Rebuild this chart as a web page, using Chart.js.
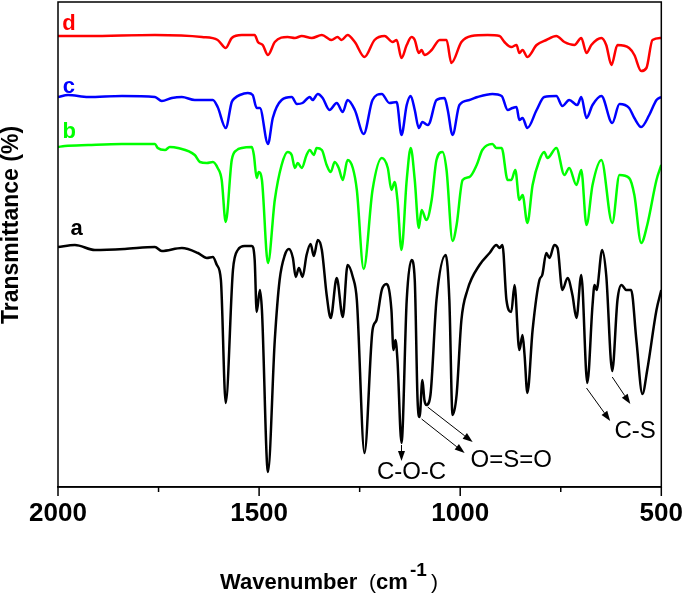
<!DOCTYPE html>
<html>
<head>
<meta charset="utf-8">
<script src="https://cdn.jsdelivr.net/npm/chart.js@4.4.1/dist/chart.umd.min.js"></script>
<style>
html,body{margin:0;padding:0;background:#ffffff;}
#wrap{width:685px;height:594px;position:relative;}
</style>
</head>
<body>
<div id="wrap"><canvas id="chart" width="685" height="594"></canvas></div>
<script>
// ---- Data (wavenumber in cm-1, transmittance in arbitrary offset units) ----
const xTickLabels = [2000, 1500, 1000, 500];
const xMinorTicks = [1750, 1250, 750];

const aWn = [2000,1958,1908,1834,1759,1742,1692,1652,1630,1615,1605,1595,1583,1565,1553,1536,1518,1511,1506,1498,1493,1478,1461,1449,1436,1426,1416,1409,1401,1392,1382,1372,1364,1354,1344,1332,1322,1307,1292,1280,1267,1257,1238,1218,1208,1195,1183,1171,1166,1161,1156,1146,1133,1121,1113,1106,1101,1094,1089,1084,1074,1059,1036,1027,1019,1009,997,982,952,927,910,902,895,885,873,865,853,845,840,833,820,803,796,786,778,766,758,746,733,721,711,699,684,671,666,661,647,637,622,609,599,587,575,562,547,535,512,500];
const aT  = [240,242,237,238,240,236,239,234,229,230,222,207,84,217,237,241,241,227,175,197,177,15,147,207,232,238,229,210,219,210,232,243,231,247,237,192,169,209,170,222,210,187,34,157,167,197,203,177,137,147,127,44,187,227,207,87,70,107,87,82,92,187,232,187,72,92,167,197,222,234,242,239,242,187,175,202,137,152,132,94,157,207,212,234,229,242,239,197,209,192,169,212,104,182,202,197,237,212,116,187,202,197,197,147,93,117,177,197];

const bWn = [2000,1983,1925,1841,1759,1752,1734,1722,1702,1660,1647,1630,1615,1603,1593,1583,1568,1555,1543,1518,1513,1506,1501,1493,1478,1461,1444,1429,1419,1411,1404,1394,1382,1374,1364,1357,1344,1332,1322,1312,1302,1292,1280,1267,1257,1240,1218,1195,1180,1171,1163,1156,1146,1133,1123,1113,1103,1096,1084,1071,1059,1044,1034,1019,1009,994,977,959,945,920,910,897,882,873,863,853,845,833,820,803,791,783,761,741,729,711,699,686,671,649,622,604,580,567,550,535,512,500];
const bT  = [340,341,342,343,343,339,337,340,339,332,325,324,325,319,307,265,327,337,339,340,332,309,315,307,224,287,322,335,332,319,324,319,332,337,332,339,337,322,315,325,319,307,327,319,297,218,297,329,319,297,305,287,237,307,339,307,259,277,267,287,327,335,317,246,262,307,310,322,337,343,339,339,307,307,317,287,292,264,302,327,335,329,339,312,319,302,317,262,302,327,264,312,309,292,244,262,307,322];

const cWn = [2000,1975,1925,1841,1759,1742,1717,1692,1660,1615,1603,1583,1568,1560,1548,1528,1516,1506,1498,1478,1466,1444,1419,1406,1392,1374,1367,1354,1342,1325,1307,1292,1280,1262,1240,1218,1195,1176,1158,1146,1133,1123,1113,1103,1094,1081,1076,1059,1039,1031,1019,1002,977,957,920,897,882,870,860,853,845,833,810,791,761,746,729,709,699,686,671,649,622,604,580,567,550,530,512,500];
const cT  = [390,392,390,391,390,386,389,390,387,387,380,359,385,389,392,394,392,379,379,343,369,387,390,383,384,390,387,393,389,377,384,375,387,377,353,387,393,384,385,352,382,391,377,359,365,362,364,387,389,377,352,382,387,390,393,391,377,379,380,367,369,359,377,390,391,381,387,382,390,369,382,391,364,383,379,369,360,372,387,390];

const dWn = [2000,1925,1759,1642,1603,1583,1568,1543,1511,1503,1491,1478,1461,1429,1411,1394,1369,1344,1320,1305,1295,1280,1262,1238,1213,1188,1168,1158,1146,1133,1121,1113,1103,1096,1089,1071,1051,1034,1022,997,972,932,902,890,873,860,853,845,833,810,786,761,741,716,699,686,674,649,637,624,609,580,567,550,537,522,500];
const dT  = [451,451,452,450,447,439,449,452,452,445,442,432,445,450,449,451,449,452,447,450,447,452,445,430,447,451,445,447,429,442,450,447,434,437,432,437,447,447,424,445,451,452,451,445,440,442,434,437,430,442,447,451,445,442,449,434,442,449,442,422,442,439,432,416,419,447,449];

// ---- Annotations (in data coordinates) ----
const curveLabels = [
  {text:'d', wn:1973, t:457, color:'#ff0000'},
  {text:'c', wn:1973, t:394, color:'#0000ff'},
  {text:'b', wn:1972, t:349, color:'#00ff00'},
  {text:'a', wn:1954, t:252, color:'#000000'}
];
const notes = [
  {text:'C-O-C', wn:1121, t:8},
  {text:'O=S=O', wn:873, t:20},
  {text:'C-S', wn:565, t:49}
];
const arrows = [
  {from:[1146,42], to:[1146,26]},
  {from:[1096,68], to:[989,34]},
  {from:[1081,80], to:[969,45]},
  {from:[686,99], to:[627,66]},
  {from:[622,110], to:[577,83]}
];

const FONT = '"Liberation Sans", Arial, Helvetica, sans-serif';

function pts(wn, t){ return wn.map((w,i)=>({x:w, y:t[i]})); }

function drawArrow(ctx, x1, y1, x2, y2){
  const ang = Math.atan2(y2-y1, x2-x1);
  const L = 10, W = 3.5;
  const bx = x2 - L*Math.cos(ang), by = y2 - L*Math.sin(ang);
  ctx.beginPath(); ctx.moveTo(x1,y1); ctx.lineTo(bx,by); ctx.stroke();
  ctx.beginPath();
  ctx.moveTo(x2,y2);
  ctx.lineTo(bx + W*Math.sin(ang), by - W*Math.cos(ang));
  ctx.lineTo(bx - W*Math.sin(ang), by + W*Math.cos(ang));
  ctx.closePath(); ctx.fill();
}

const decorPlugin = {
  id:'decor',
  afterDatasetsDraw(chart){
    const ctx = chart.ctx, xs = chart.scales.x, ys = chart.scales.y, ca = chart.chartArea;
    ctx.save();
    // frame
    ctx.strokeStyle = '#000'; ctx.lineWidth = 1.5;
    ctx.strokeRect(ca.left, ca.top, ca.right-ca.left, ca.bottom-ca.top);
    // x tick marks (major longer, minor shorter), pointing outward
    xTickLabels.forEach(v=>{
      const px = xs.getPixelForValue(v);
      ctx.beginPath(); ctx.moveTo(px, ca.bottom); ctx.lineTo(px, ca.bottom + 9); ctx.stroke();
    });
    xMinorTicks.forEach(v=>{
      const px = xs.getPixelForValue(v);
      ctx.beginPath(); ctx.moveTo(px, ca.bottom); ctx.lineTo(px, ca.bottom + 5); ctx.stroke();
    });
    // curve labels
    ctx.textAlign = 'center'; ctx.textBaseline = 'alphabetic';
    ctx.font = 'bold 22px ' + FONT;
    curveLabels.forEach(l=>{
      ctx.fillStyle = l.color;
      ctx.fillText(l.text, xs.getPixelForValue(l.wn), ys.getPixelForValue(l.t));
    });
    // notes
    ctx.fillStyle = '#000';
    ctx.font = '24px ' + FONT;
    notes.forEach(n=>{
      ctx.fillText(n.text, xs.getPixelForValue(n.wn), ys.getPixelForValue(n.t));
    });
    // arrows
    ctx.strokeStyle = '#000'; ctx.fillStyle = '#000'; ctx.lineWidth = 1;
    arrows.forEach(a=>{
      drawArrow(ctx, xs.getPixelForValue(a.from[0]), ys.getPixelForValue(a.from[1]),
                     xs.getPixelForValue(a.to[0]), ys.getPixelForValue(a.to[1]));
    });
    ctx.restore();
  },
  afterDraw(chart){
    const ctx = chart.ctx;
    ctx.save();
    ctx.fillStyle = '#000';
    ctx.textAlign = 'left'; ctx.textBaseline = 'alphabetic';
    // x axis title: Wavenumber (cm-1)
    const base = 589;
    ctx.font = 'bold 22px ' + FONT; ctx.fillText('Wavenumber', 220, base);
    ctx.font = '21px ' + FONT; ctx.fillText('(', 369, base);
    ctx.font = 'bold 22px ' + FONT; ctx.fillText('cm', 376, base);
    ctx.font = 'bold 19px ' + FONT; ctx.fillText('-1', 410, base - 13);
    ctx.font = '21px ' + FONT; ctx.fillText(')', 431, base);
    // y axis title
    ctx.translate(18, 225);
    ctx.rotate(-Math.PI/2);
    ctx.textAlign = 'center';
    ctx.font = 'bold 23px ' + FONT;
    ctx.fillText('Transmittance (%)', 0, 0);
    ctx.restore();
  }
};

const lineDs = (label, wn, t, color) => ({
  label, data: pts(wn, t), borderColor: color, backgroundColor: color,
  borderWidth: 2.5, pointRadius: 0, fill: false, cubicInterpolationMode: 'monotone'
});

new Chart(document.getElementById('chart'), {
  type: 'line',
  data: {
    datasets: [
      lineDs('a', aWn, aT, '#000000'),
      lineDs('b', bWn, bT, '#00ff00'),
      lineDs('c', cWn, cT, '#0000ff'),
      lineDs('d', dWn, dT, '#ff0000')
    ]
  },
  options: {
    responsive: false,
    devicePixelRatio: 1,
    animation: false,
    events: [],
    layout: { padding: { left: 58, right: 21, top: 2, bottom: 0 } },
    plugins: { legend: { display: false }, tooltip: { enabled: false } },
    scales: {
      x: {
        type: 'linear', reverse: true, min: 500, max: 2000, position: 'bottom',
        afterFit: (s) => { s.height = 107; },
        ticks: {
          stepSize: 500, autoSkip: false, maxRotation: 0, minRotation: 0,
          color: '#000', padding: 2,
          font: { family: FONT, size: 26, weight: 'bold' },
          callback: (v) => xTickLabels.includes(v) ? String(v) : ''
        },
        grid: { display: true, drawOnChartArea: false, drawTicks: true, tickLength: 9,
                tickColor: 'rgba(0,0,0,0)', color: 'rgba(0,0,0,0)' },
        border: { display: true, color: '#000', width: 1.5 },
        title: { display: false }
      },
      y: { type: 'linear', display: false, min: 0, max: 485 }
    }
  },
  plugins: [decorPlugin]
});
</script>
</body>
</html>
